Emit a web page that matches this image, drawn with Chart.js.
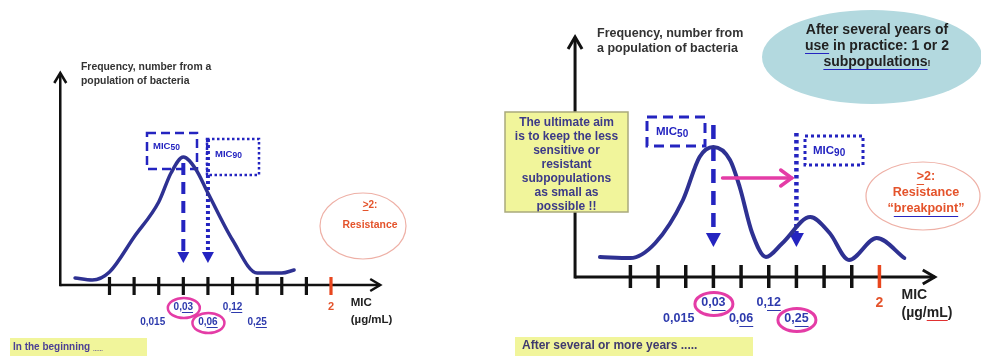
<!DOCTYPE html>
<html lang="en">
<head>
  <meta charset="UTF-8" />
  <title>MIC distribution over time</title>
  <script src="https://cdn.jsdelivr.net/npm/chart.js"></script>
  <style>
    body { margin: 0; background: #fff; }
    .panel { position: absolute; top: 0; }
    #early { left: 0; }
    #later { left: 490px; }
  </style>
</head>
<body>
  <canvas id="early" class="panel" width="490" height="356"></canvas>
  <canvas id="later" class="panel" width="491" height="356"></canvas>
  <script>
    // dilution steps on the MIC axis, step 9 is the 2 µg/mL breakpoint
    const micSteps = [0, 1, 2, 3, 4, 5, 6, 7, 8, 9];
    const micLabels = ['', '', '0,015', '0,03', '0,06', '0,12', '0,25', '', '', '2'];
    const breakpointStep = 9;

    // in the beginning: one population
    const earlyMic = [-1.4, -0.7, 0, 1, 2, 2.5, 3, 3.5, 4, 5, 6, 7, 7.5];
    const earlyFreq = [7, 5, 13, 48, 83, 112, 128, 116, 92, 45, 12, 12, 15];
    const earlyMic50 = 3;
    const earlyMic90 = 4;

    // after several years: extra subpopulations
    const laterMic = [-1.1, 0, 0.9, 1.9, 2.5, 3, 3.6, 3.95, 4.4, 4.9, 5.5, 6.5, 7.2, 7.9, 8.9, 9.9];
    const laterFreq = [20, 19, 34, 77, 120, 130, 117, 90, 44, 20, 34, 60, 44, 17, 39, 19];
    const laterMic50 = 3;
    const laterMic90 = 6;

    const FAM = "'Liberation Sans', Arial, Helvetica, sans-serif";
    const font = s => 'bold ' + s + 'px ' + FAM;
    const BLUE = '#2424c0';
    const NAVY = '#2e3192';
    const LABEL_BLUE = '#2d3aad';
    const RED = '#e4532b';
    const PINK = '#e43ca6';
    const YELLOW = '#f1f59b';

    function line(ctx, x1, y1, x2, y2) {
      ctx.beginPath();
      ctx.moveTo(x1, y1);
      ctx.lineTo(x2, y2);
      ctx.stroke();
    }

    // draws a row of text pieces, some of them underlined
    function runs(ctx, parts, x, y, align) {
      ctx.textBaseline = 'middle';
      ctx.textAlign = 'left';
      let total = 0;
      parts.forEach(p => {
        ctx.font = font(p.size);
        p.w = ctx.measureText(p.t).width;
        total += p.w;
      });
      let cx = align === 'center' ? x - total / 2 : x;
      parts.forEach(p => {
        ctx.font = font(p.size);
        ctx.fillStyle = p.color;
        ctx.fillText(p.t, cx, y + (p.dy || 0));
        if (p.ul) {
          ctx.strokeStyle = p.ul;
          ctx.lineWidth = 1;
          ctx.setLineDash([]);
          const uy = Math.round(y + (p.dy || 0) + p.size * 0.52) + 0.5;
          line(ctx, cx, uy, cx + p.w, uy);
        }
        cx += p.w;
      });
    }

    function chevron(ctx, tx, ty, dx, dy, len, half) {
      const bx = tx - dx * len, by = ty - dy * len;
      ctx.beginPath();
      ctx.moveTo(bx - dy * half, by + dx * half);
      ctx.lineTo(tx, ty);
      ctx.lineTo(bx + dy * half, by - dx * half);
      ctx.stroke();
    }

    function dropHead(ctx, x, tipY, w, h) {
      ctx.beginPath();
      ctx.moveTo(x - w / 2, tipY - h);
      ctx.lineTo(x + w / 2, tipY - h);
      ctx.lineTo(x, tipY);
      ctx.closePath();
      ctx.fill();
    }

    const earlyLook = {
      mic50: earlyMic50, mic90: earlyMic90,
      xMin: -4.449, xMax: 15.461, yMin: -71, yMax: 285,
      yAxisStep: -2, xEnd: 11, yTop: 212, axisW: 2.5, head: 10, headHalf: 6,
      tickUp: 8, tickDown: 10, tickW: 3.2, curveW: 3.5,
      labSize: 10, row1: 22, row2: 37, nudge: [0, 0, -6, 0, 0, 0, 0, 0, 0, 0], bpSize: 11,
      circleRx: 16, circleRy: 10, circleW: 2.5,
      unitStep: 9.8, unitSize: 11.5, unitRow1: 18, unitRow2: 35, unitUl: null,
      box50: [147, 133, 50, 36], box90: [207, 139, 52, 36], boxW: 2.5,
      dash: [9, 5], dot: [2.5, 2.5],
      text50: [153, 146], text90: [215, 154], micSize: 9.5, subSize: 8.5, subDy: 1.5,
      dropW: 4, dropDash: [12, 7], dropDot: [3, 3], top50: 122, top90: 146, dropTip: 22, arrowW: 12, arrowH: 11
    };

    const laterLook = {
      mic50: laterMic50, mic90: laterMic90,
      xMin: -5.074, xMax: 12.671, yMin: -79, yMax: 277,
      yAxisStep: -2, xEnd: 11, yTop: 240, axisW: 3, head: 12, headHalf: 7,
      tickUp: 12, tickDown: 11, tickW: 3.5, curveW: 4,
      labSize: 12.5, row1: 26, row2: 42, nudge: [0, 0, -7, 0, 0, 0, 0, 0, 0, 0], bpSize: 14,
      circleRx: 19, circleRy: 11.5, circleW: 3,
      unitStep: 9.8, unitSize: 14, unitRow1: 18, unitRow2: 36, unitUl: '#e03030',
      box50: [157, 117, 58, 29], box90: [315, 136, 58, 29], boxW: 3,
      dash: [10, 6], dot: [3, 3],
      text50: [166, 132], text90: [323, 151], micSize: 11.5, subSize: 10, subDy: 2,
      dropW: 4.5, dropDash: [14, 8], dropDot: [3.5, 3.5], top50: 152, top90: 144, dropTip: 30, arrowW: 15, arrowH: 14
    };

    function drawBase(chart, s) {
      const ctx = chart.ctx;
      const X = v => chart.scales.x.getPixelForValue(v);
      const Y = v => chart.scales.y.getPixelForValue(v);
      const ax = X(s.yAxisStep), ay = Y(0);
      ctx.save();

      // axes with open arrow heads
      ctx.strokeStyle = '#111';
      ctx.lineWidth = s.axisW;
      line(ctx, ax, ay + s.axisW / 2, ax, Y(s.yTop));
      line(ctx, ax, ay, X(s.xEnd), ay);
      chevron(ctx, ax, Y(s.yTop), 0, -1, s.head, s.headHalf);
      chevron(ctx, X(s.xEnd), ay, 1, 0, s.head, s.headHalf);

      // dilution ticks
      ctx.lineWidth = s.tickW;
      micSteps.forEach(st => {
        ctx.strokeStyle = st === breakpointStep ? '#e8461e' : '#111';
        line(ctx, X(st), ay - s.tickUp, X(st), ay + s.tickDown);
      });

      // tick labels, two staggered rows
      micSteps.forEach((st, i) => {
        const lab = micLabels[i];
        if (!lab) return;
        const x = X(st) + s.nudge[i];
        const y = ay + (st % 2 ? s.row1 : s.row2);
        if (st === breakpointStep) {
          runs(ctx, [{ t: lab, size: s.bpSize, color: RED }], x, y, 'center');
          return;
        }
        const ul = lab === '0,015' ? null : LABEL_BLUE;
        runs(ctx, [
          { t: lab.slice(0, 2), size: s.labSize, color: LABEL_BLUE },
          { t: lab.slice(2), size: s.labSize, color: LABEL_BLUE, ul: ul }
        ], x, y, 'center');
      });

      // pink rings round the MIC50 / MIC90 values
      ctx.strokeStyle = PINK;
      ctx.lineWidth = s.circleW;
      [s.mic50, s.mic90].forEach(st => {
        ctx.beginPath();
        ctx.ellipse(X(st) + 0.5, ay + (st % 2 ? s.row1 : s.row2) + 1, s.circleRx, s.circleRy, 0, 0, Math.PI * 2);
        ctx.stroke();
      });

      // axis unit
      runs(ctx, [{ t: 'MIC', size: s.unitSize, color: '#222' }], X(s.unitStep), ay + s.unitRow1, 'left');
      runs(ctx, [
        { t: '(µg/', size: s.unitSize, color: '#222' },
        { t: 'mL', size: s.unitSize, color: '#222', ul: s.unitUl },
        { t: ')', size: s.unitSize, color: '#222' }
      ], X(s.unitStep), ay + s.unitRow2, 'left');

      // MIC50 / MIC90 boxes and drop arrows
      ctx.strokeStyle = BLUE;
      ctx.fillStyle = BLUE;
      ctx.lineWidth = s.boxW;
      ctx.setLineDash(s.dash);
      ctx.strokeRect(s.box50[0], s.box50[1], s.box50[2], s.box50[3]);
      ctx.setLineDash(s.dot);
      ctx.strokeRect(s.box90[0], s.box90[1], s.box90[2], s.box90[3]);

      ctx.lineWidth = s.dropW;
      ctx.setLineDash(s.dropDash);
      line(ctx, X(s.mic50), Y(s.top50), X(s.mic50), Y(s.dropTip) - s.arrowH + 1);
      ctx.setLineDash(s.dropDot);
      line(ctx, X(s.mic90), Y(s.top90), X(s.mic90), Y(s.dropTip) - s.arrowH + 1);
      ctx.setLineDash([]);
      dropHead(ctx, X(s.mic50), Y(s.dropTip), s.arrowW, s.arrowH);
      dropHead(ctx, X(s.mic90), Y(s.dropTip), s.arrowW, s.arrowH);

      runs(ctx, [
        { t: 'MIC', size: s.micSize, color: BLUE },
        { t: '50', size: s.subSize, color: BLUE, dy: s.subDy }
      ], s.text50[0], s.text50[1], 'left');
      runs(ctx, [
        { t: 'MIC', size: s.micSize, color: BLUE },
        { t: '90', size: s.subSize, color: BLUE, dy: s.subDy }
      ], s.text90[0], s.text90[1], 'left');

      ctx.restore();
    }

    function drawEarlyNotes(chart) {
      const ctx = chart.ctx;
      ctx.save();
      runs(ctx, [{ t: 'Frequency, number from a', size: 10.4, color: '#333' }], 81, 67, 'left');
      runs(ctx, [{ t: 'population of bacteria', size: 10.4, color: '#333' }], 81, 81, 'left');

      ctx.fillStyle = '#fff';
      ctx.strokeStyle = '#eeb0a6';
      ctx.lineWidth = 1.2;
      ctx.beginPath();
      ctx.ellipse(363, 226, 43, 33, 0, 0, Math.PI * 2);
      ctx.fill();
      ctx.stroke();
      runs(ctx, [
        { t: '>', size: 10, color: RED, ul: RED },
        { t: '2:', size: 10, color: RED }
      ], 370, 205, 'center');
      runs(ctx, [{ t: 'Resistance', size: 10.4, color: RED }], 370, 225, 'center');

      ctx.fillStyle = YELLOW;
      ctx.fillRect(10, 338, 137, 18);
      runs(ctx, [
        { t: 'In the beginning ', size: 10, color: '#4b3f95' },
        { t: '......', size: 6, color: '#4b3f95', dy: 2 }
      ], 13, 347, 'left');
      ctx.restore();
    }

    function drawLaterNotes(chart) {
      const ctx = chart.ctx;
      const X = v => chart.scales.x.getPixelForValue(v);
      const Y = v => chart.scales.y.getPixelForValue(v);
      ctx.save();
      runs(ctx, [{ t: 'Frequency, number from', size: 12.5, color: '#333' }], 107, 34, 'left');
      runs(ctx, [{ t: 'a population of bacteria', size: 12.5, color: '#333' }], 107, 49, 'left');

      // teal bubble
      ctx.fillStyle = '#b3d9df';
      ctx.beginPath();
      ctx.ellipse(382, 57, 110, 47, 0, 0, Math.PI * 2);
      ctx.fill();
      runs(ctx, [{ t: 'After several years of', size: 14, color: '#222' }], 387, 30, 'center');
      runs(ctx, [
        { t: 'use', size: 14, color: '#222', ul: BLUE },
        { t: ' in practice: 1 or 2', size: 14, color: '#222' }
      ], 387, 46, 'center');
      runs(ctx, [
        { t: 'subpopulations', size: 14, color: '#222', ul: BLUE },
        { t: '!', size: 9, color: '#222', dy: 2 }
      ], 387, 62, 'center');

      // yellow note over the y axis
      ctx.fillStyle = YELLOW;
      ctx.strokeStyle = '#a9a97c';
      ctx.lineWidth = 1.5;
      ctx.fillRect(15, 112, 123, 100);
      ctx.save();
      ctx.beginPath();
      ctx.rect(15, 112, 123, 100);
      ctx.clip();
      const note = ['The ultimate aim', 'is to keep the less', 'sensitive or', 'resistant',
        'subpopulations', 'as small as', 'possible !!'];
      note.forEach((t, i) => runs(ctx, [{ t: t, size: 12, color: '#3c3a88' }], 76.5, 123 + i * 14, 'center'));
      ctx.restore();
      ctx.strokeRect(15, 112, 123, 100);

      // shift of MIC90 to the right
      ctx.strokeStyle = PINK;
      ctx.lineWidth = 3.5;
      ctx.lineCap = 'round';
      line(ctx, X(laterMic50 + 0.33), Y(99), X(laterMic90 - 0.17), Y(99));
      chevron(ctx, X(laterMic90 - 0.17), Y(99), 1, 0, 11, 8);
      ctx.lineCap = 'butt';

      ctx.fillStyle = '#fff';
      ctx.strokeStyle = '#eeb0a6';
      ctx.lineWidth = 1.2;
      ctx.beginPath();
      ctx.ellipse(433, 196, 57, 34, 0, 0, Math.PI * 2);
      ctx.fill();
      ctx.stroke();
      runs(ctx, [
        { t: '>', size: 12.6, color: RED, ul: RED },
        { t: '2:', size: 12.6, color: RED }
      ], 436, 177, 'center');
      runs(ctx, [{ t: 'Resistance', size: 12.6, color: RED }], 436, 193, 'center');
      runs(ctx, [
        { t: '\u201C', size: 12.6, color: RED },
        { t: 'breakpoint', size: 12.6, color: RED, ul: BLUE },
        { t: '\u201D', size: 12.6, color: RED }
      ], 436, 209, 'center');

      ctx.fillStyle = YELLOW;
      ctx.fillRect(25, 337, 238, 19);
      runs(ctx, [{ t: 'After several or more years .....', size: 12, color: '#3f3a6e' }], 32, 346, 'left');
      ctx.restore();
    }

    function makePanel(id, mic, freq, look, notes) {
      return new Chart(document.getElementById(id), {
        type: 'line',
        data: {
          datasets: [{
            data: mic.map((m, i) => ({ x: m, y: freq[i] })),
            borderColor: NAVY,
            borderWidth: look.curveW,
            borderCapStyle: 'round',
            borderJoinStyle: 'round',
            cubicInterpolationMode: 'monotone',
            pointRadius: 0,
            fill: false
          }]
        },
        options: {
          responsive: false,
          animation: false,
          events: [],
          layout: { padding: 0 },
          plugins: { legend: { display: false }, tooltip: { enabled: false } },
          scales: {
            x: { type: 'linear', display: false, min: look.xMin, max: look.xMax },
            y: { display: false, min: look.yMin, max: look.yMax }
          }
        },
        plugins: [{
          id: 'micPanel',
          beforeDatasetsDraw: chart => drawBase(chart, look),
          afterDatasetsDraw: chart => notes(chart)
        }]
      });
    }

    makePanel('early', earlyMic, earlyFreq, earlyLook, drawEarlyNotes);
    makePanel('later', laterMic, laterFreq, laterLook, drawLaterNotes);
  </script>
</body>
</html>
